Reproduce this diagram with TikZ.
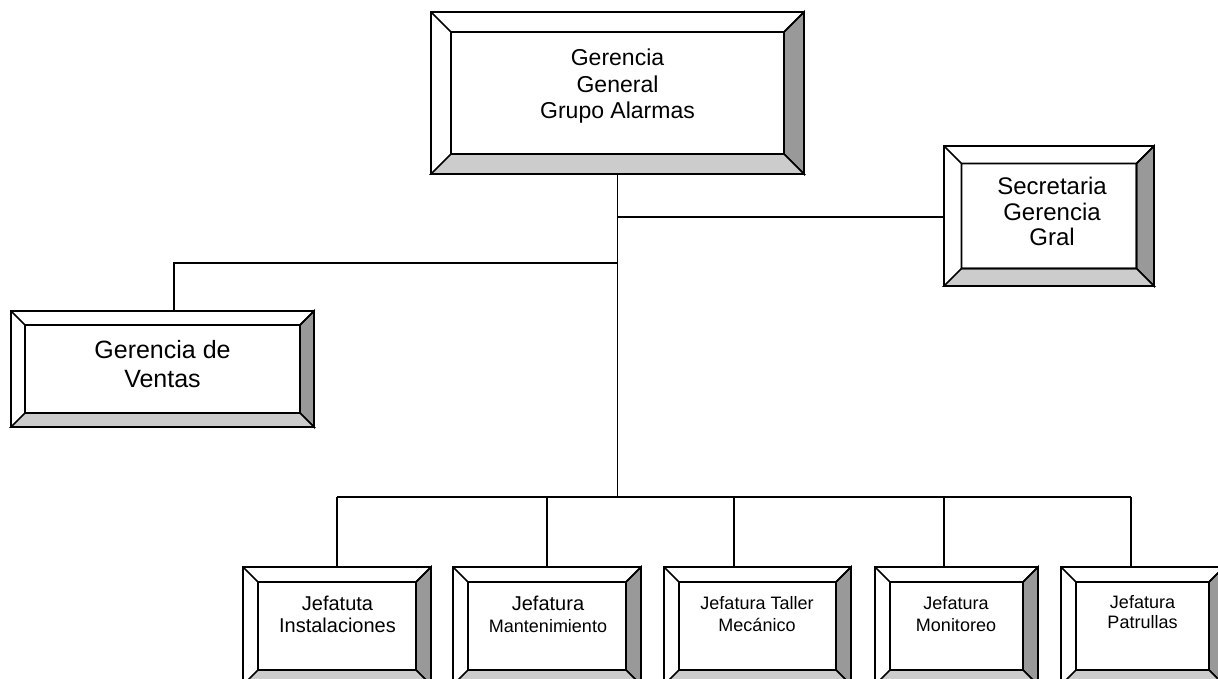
\documentclass[tikz,border=0pt]{standalone}
\usepackage{fontspec}
\setmainfont{Liberation Sans}
\definecolor{bevdark}{RGB}{153,153,153}
\definecolor{bevlight}{RGB}{204,204,204}
\tikzset{
 bevelouter/.style={draw=black, line width=1.7pt, fill=white, rectangle, inner sep=0pt, outer sep=0pt},
 bline/.style={draw=black, line width=1.7pt, line join=miter},
 conn/.style={draw=black, line width=1.6pt},
 lbl/.style={anchor=north, inner sep=0pt, align=center, text=black},
}
\newcommand\bevbox[6]{%
 \pgfmathsetmacro\bxa{#2+#6}\pgfmathsetmacro\bya{#3+#6}\pgfmathsetmacro\bxb{#4-#6}\pgfmathsetmacro\byb{#5-#6}%
 \node[bevelouter, minimum width={(#4-#2)*1pt}, minimum height={(#5-#3)*1pt}] (#1) at ({(#2+#4)/2},{(#3+#5)/2}) {};
 \filldraw[bline, fill=bevdark] (#4,#3) -- (#4,#5) -- (\bxb,\byb) -- (\bxb,\bya) -- cycle;
 \filldraw[bline, fill=bevlight] (#2,#5) -- (#4,#5) -- (\bxb,\byb) -- (\bxa,\byb) -- cycle;
 \draw[bline] (#2,#3) -- (\bxa,\bya) (#4,#3) -- (\bxb,\bya) (\bxa,\bya) rectangle (\bxb,\byb);
 \draw[bline] (#1.north west) rectangle (#1.south east);
}
\begin{document}
\begin{tikzpicture}[x=1pt,y=-1pt]
\useasboundingbox (0,0) rectangle (1218,678);
\clip (0,0) rectangle (1218,678);
\fill[white] (0,0) rectangle (1218,678);
% connectors
\coordinate (jsec) at (617.5,217);
\coordinate (jven) at (617.5,263);
\coordinate (jbus) at (617.5,497);
\coordinate (vturn) at (174,263);
\coordinate (b1) at (337,497);
\coordinate (b2) at (547,497);
\coordinate (b3) at (734,497);
\coordinate (b4) at (944,497);
\coordinate (b5) at (1131,497);
% boxes
\bevbox{gg}{431}{12}{804}{174}{20}
\bevbox{sec}{944}{146}{1154}{286}{17.5}
\bevbox{ven}{11}{311}{314}{427}{14}
\bevbox{ins}{243}{567}{431}{685}{15}
\bevbox{man}{453}{567}{641}{685}{15}
\bevbox{tal}{664}{567}{851}{685}{15}
\bevbox{mon}{875}{567}{1038}{685}{15}
\bevbox{pat}{1061}{567}{1224}{685}{15}
\draw[conn] (gg.south) -- (jbus);
\draw[conn] (jsec) -- (sec.west |- jsec);
\draw[conn] (jven) -- (vturn) -- (vturn |- ven.north);
\draw[conn] (b1) -- (b5);
\draw[conn] (b1) -- (b1 |- ins.north);
\draw[conn] (b2) -- (b2 |- man.north);
\draw[conn] (b3) -- (b3 |- tal.north);
\draw[conn] (b4) -- (b4 |- mon.north);
\draw[conn] (b5) -- (b5 |- pat.north);
% labels
\node[lbl, font=\fontsize{23}{26.5}\selectfont] (gg-t) at (617.5,49) {Gerencia\\General\\Grupo Alarmas};
\node[lbl, font=\fontsize{24}{25.5}\selectfont] (sec-t) at (1052,177) {Secretaria\\Gerencia\\Gral};
\node[lbl, font=\fontsize{25}{29}\selectfont] (ven-t) at (162.5,340) {Gerencia de\\Ventas};
\node[lbl, font=\fontsize{20}{22}\selectfont] (ins-t) at (337.5,596) {Jefatuta\\Instalaciones};
\node[lbl, font=\fontsize{20}{22}\selectfont] (man-t) at (548,596) {Jefatura\\{\fontsize{18}{20}\selectfont Mantenimiento}};
\node[lbl, font=\fontsize{18}{22}\selectfont] (tal-t) at (757,596) {Jefatura Taller\\Mecánico};
\node[lbl, font=\fontsize{18}{22}\selectfont] (mon-t) at (956,596) {Jefatura\\Monitoreo};
\node[lbl, font=\fontsize{18}{20}\selectfont] (pat-t) at (1142.5,595) {Jefatura\\Patrullas};
\end{tikzpicture}
\end{document}
